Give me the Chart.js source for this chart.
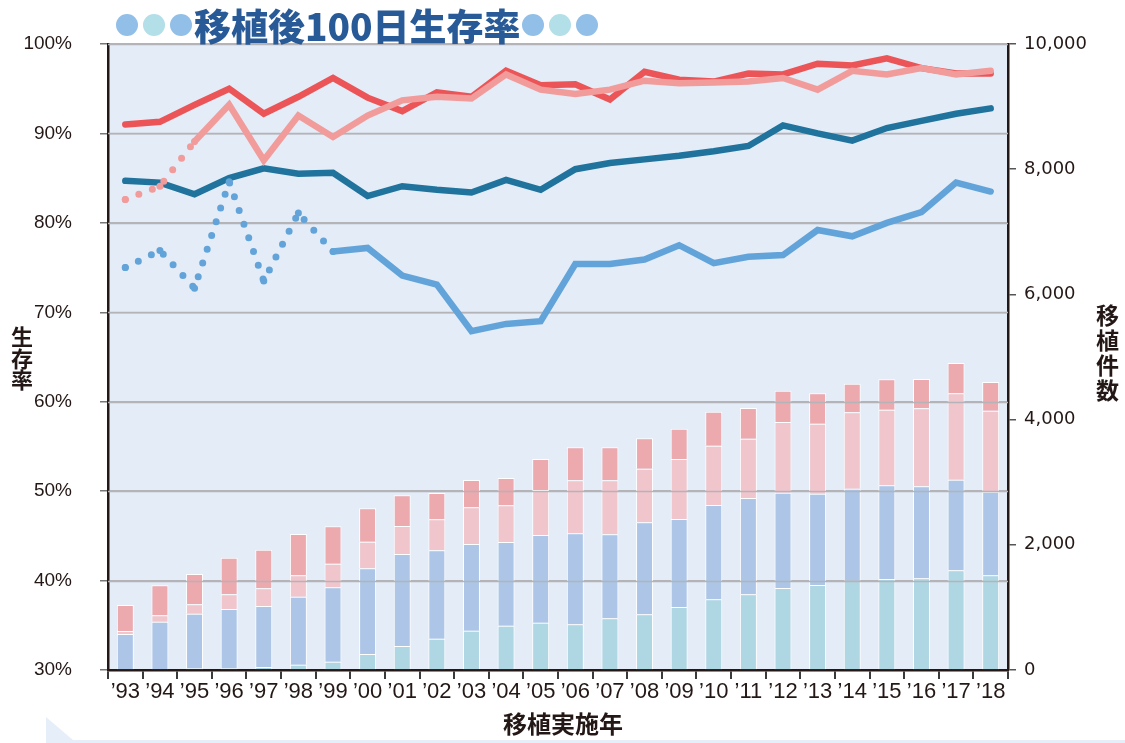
<!DOCTYPE html>
<html lang="ja">
<head>
<meta charset="utf-8">
<title>移植後100日生存率</title>
<script src="https://cdn.jsdelivr.net/npm/chart.js@4/dist/chart.umd.min.js"></script>
<style>
  html, body { margin: 0; padding: 0; background: #fff; }
  #wrap { position: relative; width: 1125px; height: 743px; overflow: hidden; }
  #c { position: absolute; left: 0; top: 0; }
  .title { position: absolute; left: 116px; top: 2px; display: flex; align-items: center;
           font-family: "Noto Sans CJK JP", sans-serif; font-weight: 900; font-size: 37px;
           color: #275a97; line-height: 46px; }
  .dot { display: inline-block; width: 22px; height: 22px; border-radius: 50%; margin-right: 5px; }
  .d1 { background: #92bfe7; }
  .d2 { background: #b2dfe8; }
  .title .txt { margin: 0 1px 0 -3px; letter-spacing: 0px; }
  .vt { position: absolute; font-family: "Noto Sans CJK JP", sans-serif; font-weight: 700;
        color: #231815; text-align: center; }
  #ytitle { left: 11px; top: 325px; font-size: 22px; line-height: 21.5px; }
  #y1title { left: 1096px; top: 302px; font-size: 23px; line-height: 25px; }
  #xtitle { position: absolute; left: 503px; top: 708px; font-family: "Noto Sans CJK JP", sans-serif;
            font-weight: 700; font-size: 24px; line-height: 30px; color: #231815; }
  #deco { position: absolute; left: 46px; top: 717px; width: 1079px; height: 26px; background: #e6eff9;
          clip-path: polygon(0 0, 27px 23px, 100% 23px, 100% 100%, 0 100%); }
</style>
</head>
<body>
<div id="wrap">
  <div id="deco"></div>
  <canvas id="c" width="1125" height="743"></canvas>
  <div class="title">
    <span class="dot d1"></span><span class="dot d2"></span><span class="dot d1"></span>
    <span class="txt">移植後100日生存率</span>
    <span class="dot d1"></span><span class="dot d2"></span><span class="dot d1"></span>
  </div>
  <div class="vt" id="ytitle">生<br>存<br>率</div>
  <div class="vt" id="y1title">移<br>植<br>件<br>数</div>
  <div id="xtitle">移植実施年</div>
</div>
<script>
const years = ['\u201993', '\u201994', '\u201995', '\u201996', '\u201997', '\u201998', '\u201999',
    '\u201900', '\u201901', '\u201902', '\u201903', '\u201904', '\u201905', '\u201906', '\u201907',
    '\u201908', '\u201909', '\u201910', '\u201911', '\u201912', '\u201913', '\u201914', '\u201915',
    '\u201916', '\u201917', '\u201918'];

// 移植件数 (stacked bars, right axis)
const countTeal = [0, 0, 27, 27, 48, 85, 133, 256, 383, 500, 628, 708, 756, 729, 825, 889, 1006, 1129, 1209, 1310, 1358, 1427, 1454, 1464, 1592, 1512];
const countBlue = [575, 772, 872, 947, 974, 1086, 1188, 1368, 1470, 1412, 1385, 1337, 1401, 1454, 1342, 1470, 1406, 1507, 1539, 1523, 1458, 1469, 1496, 1470, 1448, 1336];
const countLightPink = [48, 101, 150, 235, 283, 341, 377, 426, 447, 495, 586, 586, 718, 847, 863, 857, 959, 948, 947, 1129, 1119, 1220, 1208, 1246, 1380, 1294];
const countPink = [415, 480, 484, 585, 617, 660, 597, 533, 490, 420, 436, 436, 496, 527, 527, 485, 484, 543, 490, 500, 485, 458, 485, 469, 484, 459];

// 生存率 (%), left axis
const rateRed = [91.0, 91.3, 93.2, 95.0, 92.2, 94.1, 96.2, 94.0, 92.5, 94.6, 94.1, 97.0, 95.4, 95.5, 93.8, 96.9, 96.0, 95.8, 96.7, 96.6, 97.8, 97.6, 98.4, 97.3, 96.7, 96.7];
const rateSalmonEarly = [82.6, 84.1, 89.1, null, null, null, null, null, null, null, null, null, null, null, null, null, null, null, null, null, null, null, null, null, null, null];
const rateSalmon = [null, null, 89.1, 93.2, 87.0, 92.0, 89.6, 92.0, 93.7, 94.1, 93.9, 96.6, 94.9, 94.4, 94.9, 95.9, 95.6, 95.7, 95.8, 96.2, 94.9, 97.0, 96.6, 97.3, 96.6, 97.0];
const rateNavy = [84.7, 84.5, 83.2, 85.0, 86.1, 85.5, 85.6, 83.0, 84.1, 83.7, 83.4, 84.8, 83.7, 86.0, 86.7, 87.1, 87.5, 88.0, 88.6, 90.9, 90.0, 89.2, 90.6, 91.4, 92.2, 92.8];
const rateBlueEarly = [75.0, 76.9, 72.7, 84.6, 73.5, 81.1, 76.8, null, null, null, null, null, null, null, null, null, null, null, null, null, null, null, null, null, null, null];
const rateBlue = [null, null, null, null, null, null, 76.8, 77.2, 74.1, 73.1, 67.9, 68.7, 69.0, 75.4, 75.4, 75.9, 77.5, 75.5, 76.2, 76.4, 79.2, 78.5, 80.0, 81.2, 84.5, 83.5];

const INK = '#231815';
const GRID = '#b3b3b8';

// plot background + gridlines redrawn above the bars but under the lines
const plotDecor = {
    id: 'plotDecor',
    beforeDraw(chart) {
        const { ctx, chartArea: a } = chart;
        ctx.save();
        ctx.fillStyle = '#e4ecf7';
        ctx.fillRect(a.left, a.top, a.right - a.left, a.bottom - a.top);
        ctx.restore();
    },
    beforeDatasetsDraw(chart) {
        chart.$gridDone = false;
    },
    beforeDatasetDraw(chart, args) {
        if (chart.$gridDone || args.meta.type !== 'line') return;
        chart.$gridDone = true;
        const { ctx, chartArea: a } = chart;
        const ys = chart.scales.y;
        ctx.save();
        ctx.strokeStyle = GRID;
        ctx.lineWidth = 1.5;
        ys.ticks.forEach(t => {
            if (t.value <= ys.min) return;
            const py = Math.round(ys.getPixelForValue(t.value)) + 0.5;
            ctx.beginPath();
            ctx.moveTo(a.left, py);
            ctx.lineTo(a.right, py);
            ctx.stroke();
        });
        ctx.restore();
    }
};

function barSet(label, data, color) {
    return {
        type: 'bar', label, data, yAxisID: 'y1', stack: 'n', order: 10,
        backgroundColor: color, borderColor: '#ffffff', borderWidth: 1,
        barPercentage: 0.49, categoryPercentage: 1
    };
}

function lineSet(label, data, color, order, dotted) {
    const ds = {
        type: 'line', label, data, yAxisID: 'y', order,
        borderColor: color, backgroundColor: color, borderWidth: 6.5,
        borderCapStyle: 'round', borderJoinStyle: 'miter',
        pointRadius: 0, fill: false, tension: 0
    };
    if (dotted) {
        ds.borderDash = [0, 14.5];
        ds.borderWidth = 7;
        ds.pointRadius = 3.5;
        ds.pointBorderWidth = 0;
    }
    return ds;
}

Chart.defaults.font.family = '"Liberation Sans", Arial, sans-serif';
Chart.defaults.color = INK;

new Chart(document.getElementById('c'), {
    data: {
        labels: years,
        datasets: [
            barSet('teal', countTeal, '#afd6e3'),
            barSet('blue', countBlue, '#adc6e7'),
            barSet('lightpink', countLightPink, '#f0c6cc'),
            barSet('pink', countPink, '#eca9ae'),
            lineSet('navy', rateNavy, '#1f739d', 4, false),
            lineSet('blueEarly', rateBlueEarly, '#62a4d9', 3, true),
            lineSet('blue', rateBlue, '#62a4d9', 3, false),
            lineSet('red', rateRed, '#ec5558', 2, false),
            lineSet('salmonEarly', rateSalmonEarly, '#f29b9b', 1, true),
            lineSet('salmon', rateSalmon, '#f29b9b', 1, false)
        ]
    },
    plugins: [plotDecor],
    options: {
        responsive: false,
        animation: false,
        devicePixelRatio: 1,
        layout: { padding: { top: 44, left: 0, right: 0, bottom: 0 } },
        plugins: { legend: { display: false }, tooltip: { enabled: false }, title: { display: false } },
        scales: {
            x: {
                stacked: true,
                offset: true,
                grid: { display: true, offset: true, drawOnChartArea: false, tickLength: 9, tickColor: '#3a3a3a', lineWidth: 2 },
                border: { display: true, color: INK, width: 2.5 },
                ticks: { font: { size: 22 }, color: INK, padding: 0, maxRotation: 0, autoSkip: false },
                afterFit(s) { s.height = 73; }
            },
            y: {
                position: 'left',
                min: 30, max: 100,
                grid: { color: GRID, lineWidth: 1.5, tickLength: 8, tickColor: '#777' },
                border: { display: true, color: INK, width: 2.5 },
                ticks: { stepSize: 10, font: { size: 19 }, color: INK, padding: 28, callback: v => v + '%' },
                afterFit(s) { s.width = 108; }
            },
            y1: {
                position: 'right',
                stacked: true,
                min: 0, max: 10000,
                grid: { drawOnChartArea: false, tickLength: 8, tickColor: '#555', lineWidth: 1.5 },
                border: { display: true, color: INK, width: 2.5 },
                ticks: { stepSize: 2000, font: { family: '"DejaVu Sans", sans-serif', size: 18 }, color: INK, padding: 8,
                         callback: v => v.toLocaleString('en-US') },
                afterFit(s) { s.width = 117; }
            }
        }
    }
});
</script>
</body>
</html>
